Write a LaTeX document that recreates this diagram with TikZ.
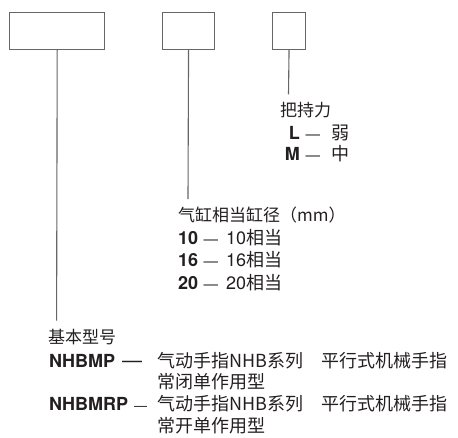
\documentclass[tikz,border=0pt]{standalone}
\usepackage{fontspec}
\setmainfont{TeX Gyre Heros}
\newfontfamily\cjk{Noto Sans CJK SC}
\definecolor{ink}{HTML}{231F20}
\definecolor{wire}{HTML}{666666}
% gap before, dash size, gap after
\newcommand{\sepdash}[3]{\hspace{#1}{\fontsize{#2}{#2}\selectfont —}\hspace{#3}}

\begin{document}
\begin{tikzpicture}[x=1pt,y=-1pt,
    field/.style={draw=wire,line width=1.1pt,inner sep=0pt,anchor=north west,minimum height=36.7pt},
    lbl/.style={inner sep=0pt,anchor=base west,text=ink,font=\fontsize{18}{22}\selectfont},
    head/.style={lbl,font=\fontsize{17}{22}\selectfont\cjk},
    desc/.style={lbl,font=\fontsize{18}{22}\selectfont\cjk}]
            \useasboundingbox (0,0) rectangle (458,437);

            % code boxes
            \node[field,minimum width=94.7pt] (model) at (9.3,12.3) {};
            \node[field,minimum width=52.6pt] (bore) at (161.7,12.3) {};
            \node[field,minimum width=33.6pt] (grip) at (271.7,12.3) {};

            \coordinate (modelend) at (56.6,320.7);
            \coordinate (boreend) at (188,199);
            \coordinate (gripend) at (288.5,94.3);
            \draw[wire,line width=1.1pt] (model.south) -- (modelend);
            \draw[wire,line width=1.1pt] (bore.south) -- (boreend);
            \draw[wire,line width=1.1pt] (grip.south) -- (gripend);

            % grip force
            \node[head] (griphead) at (280,116) {把持力};
            \foreach \c/\t/\y in {L/弱/139,M/中/160} {
            \node[lbl,anchor=base east] (grip\c) at (300,\y) {\bfseries \c};
            \node[lbl] (grip\c txt) at (300,\y) {\sepdash{5.5pt}{14.5}{11pt}\cjk \t};}

            % bore size
            \node[head] (borehead) at (178,221.5) {气缸相当缸径（mm）};
            \foreach \d/\y in {10/244.5,16/266.5,20/289.5} {
            \node[lbl] (bore\d) at (178,\y) {\textbf{\d}\sepdash{5.5pt}{14.5}{8pt}\d{\cjk 相当}};}

            % basic model
            \node[head] (modelhead) at (48,343.5) {基本型号};
            \node[lbl] (nhbmp) at (49,367.5) {\textbf{NHBMP}\sepdash{7pt}{20}{0pt}};
            \node[desc] (nhbmptxt) at (157,367.5) {气动手指NHB系列　平行式机械手指};
            \node[desc] (nhbmptxt2) at (157,388.5) {常闭单作用型};
            \node[lbl] (nhbmrp) at (49,410) {\textbf{NHBMRP}\sepdash{6pt}{13}{0pt}};
            \node[desc] (nhbmrptxt) at (157,410) {气动手指NHB系列　平行式机械手指};
            \node[desc] (nhbmrptxt2) at (157,432.8) {常开单作用型};
        \end{tikzpicture}
\end{document}
